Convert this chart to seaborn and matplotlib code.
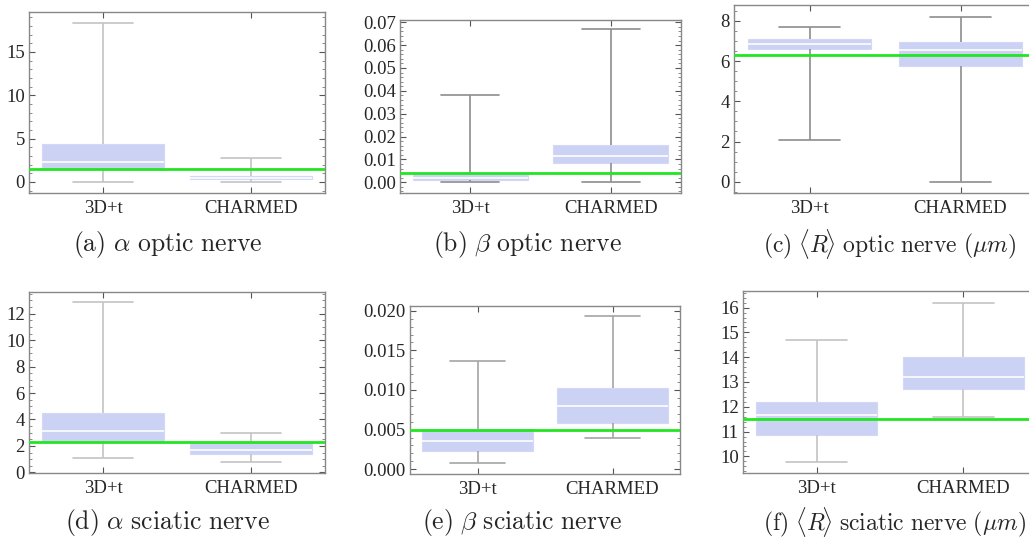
import numpy as np
import pandas as pd
import seaborn as sns
import matplotlib.pyplot as plt
from matplotlib.ticker import MultipleLocator, FormatStrFormatter

sns.set_style("white")
plt.rcParams["font.family"] = ["Liberation Serif", "DejaVu Serif"]
plt.rcParams["mathtext.fontset"] = "cm"

categories = ["3D+t", "CHARMED"]

# five-number summaries: [min, q1, median, q3, max]
alpha_optic_3dt = [0.0, 1.6, 2.3, 4.4, 18.3]
alpha_optic_charmed = [-0.04, 0.3, 0.5, 0.7, 2.77]
beta_optic_3dt = [0.0003, 0.0012, 0.0017, 0.0037, 0.038]
beta_optic_charmed = [0.0, 0.0085, 0.0115, 0.0163, 0.067]
r_optic_3dt = [2.06, 6.58, 6.83, 7.11, 7.68]
r_optic_charmed = [0.0, 5.74, 6.55, 6.93, 8.19]
alpha_sciatic_3dt = [1.08, 2.37, 3.15, 4.51, 12.86]
alpha_sciatic_charmed = [0.78, 1.39, 1.69, 2.27, 3.0]
beta_sciatic_3dt = [0.00075, 0.0023, 0.0036, 0.0051, 0.01367]
beta_sciatic_charmed = [0.0040, 0.0058, 0.0080, 0.0103, 0.0193]
r_sciatic_3dt = [9.77, 10.87, 11.65, 12.20, 14.70]
r_sciatic_charmed = [11.57, 12.72, 13.22, 14.0, 16.19]

# reference (green) values
ref_lines = [1.5, 0.004, 6.30, 2.30, 0.00495, 11.52]

captions = [
    r"$\mathrm{(a)}\ \alpha\ \mathrm{optic\ nerve}$",
    r"$\mathrm{(b)}\ \beta\ \mathrm{optic\ nerve}$",
    r"$\mathrm{(c)}\ \langle R\!\rangle\ \mathrm{optic\ nerve}\ (\mu m)$",
    r"$\mathrm{(d)}\ \alpha\ \mathrm{sciatic\ nerve}$",
    r"$\mathrm{(e)}\ \beta\ \mathrm{sciatic\ nerve}$",
    r"$\mathrm{(f)}\ \langle R\!\rangle\ \mathrm{sciatic\ nerve}\ (\mu m)$",
]
caption_sizes = [18.5, 18.5, 17, 18.5, 18.5, 17]

panels = [
    (alpha_optic_3dt, alpha_optic_charmed),
    (beta_optic_3dt, beta_optic_charmed),
    (r_optic_3dt, r_optic_charmed),
    (alpha_sciatic_3dt, alpha_sciatic_charmed),
    (beta_sciatic_3dt, beta_sciatic_charmed),
    (r_sciatic_3dt, r_sciatic_charmed),
]

W, H = 1029, 538
# axes boxes in pixels: x0, x1, y0(top), y1(bottom)
boxes_px = [
    (29, 325, 12, 193),
    (400, 681, 20, 193),
    (734, 1036, 5, 193),
    (29, 325, 292, 473),
    (410, 680, 306, 474),
    (743, 1037, 291, 473),
]
ylims = [(-1.27, 19.6), (-0.0047, 0.0710), (-0.56, 8.79),
         (-0.05, 13.64), (-0.0006, 0.0206), (9.33, 16.67)]
majors = [5, 0.01, 2, 2, 0.005, 1]
minors = [1, 0.002, 0.5, 0.5, 0.001, 0.2]
fmts = ["%g", "%.2f", "%g", "%g", "%.3f", "%g"]
whisker_colors = ["#c4c4c4", "#8e8e8e", "#8e8e8e", "#c4c4c4", "#a4a4a4", "#c4c4c4"]
caption_pos = [(168, 244), (527, 244), (890, 244), (168, 522), (522, 522), (894, 522)]

fig = plt.figure(figsize=(W / 100, H / 100), dpi=100)

for i, (d3, dc) in enumerate(panels):
    x0, x1, y0, y1 = boxes_px[i]
    ax = fig.add_axes([x0 / W, 1 - y1 / H, (x1 - x0) / W, (y1 - y0) / H])
    df = pd.DataFrame({
        "method": [categories[0]] * len(d3) + [categories[1]] * len(dc),
        "value": list(d3) + list(dc),
    })
    wc = whisker_colors[i]
    sns.boxplot(
        data=df, x="method", y="value", order=categories, ax=ax,
        whis=(0, 100), width=0.82, color="#ccd2f4", saturation=1,
        linecolor=wc, linewidth=1.2, showfliers=False,
        boxprops=dict(edgecolor="#d3d8f6", linewidth=0.8),
        medianprops=dict(color="white", linewidth=1.2),
        whiskerprops=dict(color=wc, linewidth=1.2),
        capprops=dict(color=wc, linewidth=1.2),
    )
    ax.axhline(ref_lines[i], color="#22e622", linewidth=2, zorder=5)
    ax.set_ylim(*ylims[i])
    ax.set_xlim(-0.5, 1.5)
    ax.set_xlabel("")
    ax.set_ylabel("")
    ax.yaxis.set_major_locator(MultipleLocator(majors[i]))
    ax.yaxis.set_minor_locator(MultipleLocator(minors[i]))
    ax.yaxis.set_major_formatter(FormatStrFormatter(fmts[i]))
    ax.tick_params(axis="y", which="major", direction="in", length=4, width=0.8,
                   color="#555555", labelsize=13.5, left=True, right=True, pad=3)
    ax.tick_params(axis="y", which="minor", direction="in", length=2, width=0.6,
                   color="#777777", left=True, right=True)
    ax.tick_params(axis="x", which="major", direction="in", length=4, width=0.8,
                   color="#555555", labelsize=13.5, bottom=True, top=True, pad=5)
    for s in ax.spines.values():
        s.set_visible(True)
        s.set_color("#888888")
        s.set_linewidth(1.0)
    fig.text(caption_pos[i][0] / W, 1 - caption_pos[i][1] / H, captions[i],
             ha="center", va="center", fontsize=caption_sizes[i])

fig.savefig("out.png", dpi=100)
